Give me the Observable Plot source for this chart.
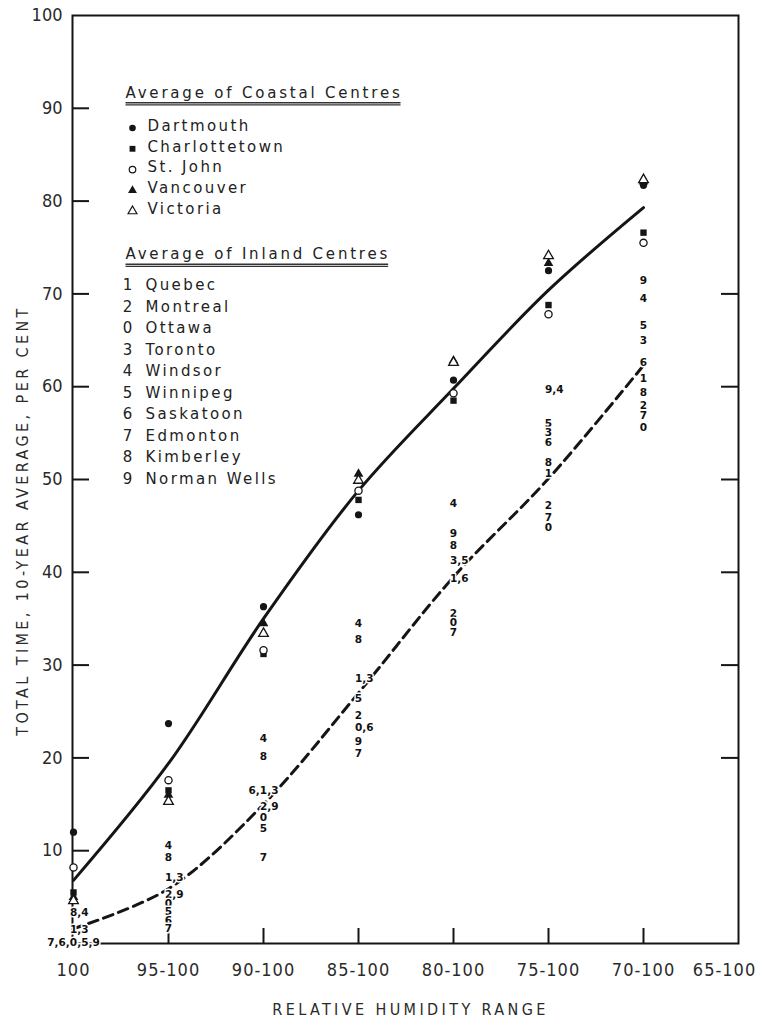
<!DOCTYPE html>
<html><head><meta charset="utf-8">
<script src="https://cdn.jsdelivr.net/npm/d3@7"></script>
<script src="https://cdn.jsdelivr.net/npm/@observablehq/plot@0.6"></script>
<style>
html,body{margin:0;padding:0;background:#fff;}
#chart svg{display:block;}
</style></head><body><div id="chart"></div>
<script>
// ---------- data ----------
const categories = ["100","95-100","90-100","85-100","80-100","75-100","70-100","65-100"];
const yTickValues = [10,20,30,40,50,60,70,80,90];
const yLabelValues = [10,20,30,40,50,60,70,80,90,100];

const coastalAverage = [6.8, 19.4, 35.0, 48.8, 59.8, 70.4, 79.3];
const inlandAverage  = [1.6, 5.9, 15.0, 27.0, 39.5, 50.1, 62.3];

const coastalNames = ["Dartmouth","Charlottetown","St. John","Vancouver","Victoria"];
const dartmouth     = [12.0, 23.7, 36.3, 46.2, 60.7, 72.5, 81.7];
const charlottetown = [5.5, 16.5, 31.2, 47.8, 58.5, 68.8, 76.6];
const stJohn        = [8.2, 17.6, 31.6, 48.8, 59.3, 67.8, 75.5];
const vancouver     = [5.0, 16.0, 34.5, 50.6, 62.8, 73.3, 82.1];
const victoria      = [4.6, 15.3, 33.4, 49.9, 62.6, 74.1, 82.3];

const inlandDigits = ["1","2","0","3","4","5","6","7","8","9"];
const inlandNames = ["Quebec","Montreal","Ottawa","Toronto","Windsor","Winnipeg","Saskatoon","Edmonton","Kimberley","Norman Wells"];

const coastalTitle = "Average of Coastal Centres";
const inlandTitle = "Average of Inland Centres";
const xTitle = "RELATIVE HUMIDITY RANGE";
const yTitle = "TOTAL TIME, 10-YEAR AVERAGE, PER CENT";

// inland centre labels read at each humidity range: [label, value]
const inland100    = [["8,4",3.3],["1,3",1.5],["7,6,0,5,9",0.1]];
const inland95_100 = [["4",10.6],["8",9.2],["1,3",7.1],["2,9",5.3],["0",4.3],["5",3.4],["6",2.5],["7",1.6]];
const inland90_100 = [["4",22.1],["8",20.1],["6,1,3",16.5],["2,9",14.7],["0",13.6],["5",12.4],["7",9.3]];
const inland85_100 = [["4",34.5],["8",32.7],["1,3",28.5],["5",26.4],["2",24.6],["0,6",23.3],["9",21.7],["7",20.5]];
const inland80_100 = [["4",47.4],["9",44.2],["8",42.9],["3,5",41.3],["1,6",39.3],["2",35.6],["0",34.6],["7",33.5]];
const inland75_100 = [["9,4",59.7],["5",56.0],["3",55.1],["6",54.0],["8",51.8],["1",50.6],["2",47.2],["7",45.9],["0",44.8]];
const inland70_100 = [["9",71.4],["4",69.5],["5",66.6],["3",65.0],["6",62.6],["1",60.9],["8",59.4],["2",58.0],["7",56.9],["0",55.6]];
const inlandColumns = [inland100, inland95_100, inland90_100, inland85_100, inland80_100, inland75_100, inland70_100];

// ---------- build tables ----------
const series = arr => arr.map((v, i) => ({x: categories[i], y: v}));
const inlandRows = inlandColumns.flatMap((col, i) => col.map(([label, v]) => ({x: categories[i], y: v, label})));

const W = 759, H = 1021;
const mL = 72, mR = 21, mT = 15, mB = 78;
const plotW = W - mL - mR, plotH = H - mT - mB;

const axisFont = "'DejaVu Sans Condensed', sans-serif";
const legendFont = "'DejaVu Sans', sans-serif";
const ink = "#151515";

const stationStyles = [
  {data: dartmouth, symbol: "circle", fill: ink, stroke: "none"},
  {data: charlottetown, symbol: "square", fill: ink, stroke: "none"},
  {data: stJohn, symbol: "circle", fill: "white", stroke: ink},
  {data: vancouver, symbol: "triangle", fill: ink, stroke: "none"},
  {data: victoria, symbol: "triangle", fill: "white", stroke: ink}
];

const labelStyle = {fontSize: 10.5, fontWeight: "bold", fontFamily: legendFont, fill: "#111", stroke: "white", strokeWidth: 3, paintOrder: "stroke"};

const marks = [
  Plot.frame({stroke: ink, strokeWidth: 2}),
  Plot.tickY(yTickValues, {y: d => d, insetRight: plotW - 17, stroke: ink, strokeWidth: 2}),
  Plot.tickY(yTickValues.slice(1,7), {y: d => d, insetLeft: plotW - 17, stroke: ink, strokeWidth: 2}),
  Plot.tickX(categories.slice(1, 7), {x: d => d, insetTop: plotH - 15, stroke: ink, strokeWidth: 2}),
  Plot.axisY({ticks: yLabelValues, tickSize: 0, tickPadding: 10, label: null, fontSize: 18, fontFamily: axisFont, fill: "#2a2a2a"}),
  Plot.axisX({tickSize: 0, tickPadding: 20, label: null, fontSize: 18, fontFamily: axisFont, fill: "#2a2a2a"}),
  Plot.line(series(coastalAverage), {x: "x", y: "y", curve: "catmull-rom", stroke: ink, strokeWidth: 3}),
  Plot.line(series(inlandAverage), {x: "x", y: "y", curve: "catmull-rom", stroke: ink, strokeWidth: 3, strokeDasharray: "10,6"}),
  Plot.text(inlandRows, {filter: d => d.label.length === 3, x: "x", y: "y", text: "label", textAnchor: "start", dx: -3.5, ...labelStyle}),
  Plot.text(inlandRows, {filter: d => d.label.length !== 3, x: "x", y: "y", text: "label", textAnchor: "middle", ...labelStyle})
];

stationStyles.forEach(s => {
  marks.push(Plot.dot(series(s.data), {x: "x", y: "y", symbol: s.symbol, r: 3.6, fill: s.fill, stroke: s.stroke, strokeWidth: 1.3}));
});

// axis titles
marks.push(Plot.text([xTitle], {frameAnchor: "bottom", dy: 66, dx: 5, text: d => d, textAnchor: "middle", lineAnchor: "middle",
  fontSize: 16, fontFamily: axisFont, fill: "#2a2a2a"}));
marks.push(Plot.text([yTitle], {frameAnchor: "left", dx: -50, dy: 41, rotate: -90, text: d => d, textAnchor: "middle", lineAnchor: "middle",
  fontSize: 16, fontFamily: axisFont, fill: "#2a2a2a"}));

// legend
const legendText = (str, dx, yc, anchor = "start") => Plot.text([str], {frameAnchor: "top-left", dx, dy: yc - mT, text: d => d,
  textAnchor: anchor, lineAnchor: "middle", fontSize: 15, fontFamily: legendFont, fill: "#222"});
marks.push(legendText(coastalTitle, 53, 92.5));
coastalNames.forEach((name, i) => {
  const yc = 125.5 + i * 20.8;
  const s = stationStyles[i];
  marks.push(Plot.dot([name], {frameAnchor: "top-left", dx: 60, dy: yc + 2 - mT, symbol: s.symbol, r: 3.3, fill: s.fill, stroke: s.stroke, strokeWidth: 1.2}));
  marks.push(legendText(name, 75, yc));
});
marks.push(legendText(inlandTitle, 53, 254));
inlandNames.forEach((name, i) => {
  const yc = 285 + i * 21.5;
  marks.push(legendText(inlandDigits[i], 55, yc, "middle"));
  marks.push(legendText(name, 73, yc));
});

const chart = Plot.plot({
  width: W, height: H,
  marginLeft: mL, marginRight: mR, marginTop: mT, marginBottom: mB,
  style: {background: "white", color: ink, fontFamily: legendFont},
  x: {type: "point", domain: categories, padding: 0},
  y: {domain: [0, 100]},
  marks
});
document.getElementById("chart").appendChild(chart);

// styling tweaks (selected by content)
const svg = d3.select(chart);
const byText = set => svg.selectAll("text").filter(function() { return set.has(this.textContent); });
byText(new Set([...coastalNames, ...inlandNames])).style("letter-spacing", "2.4px");
byText(new Set([coastalTitle, inlandTitle])).style("letter-spacing", "2.8px");
byText(new Set([xTitle, yTitle])).style("letter-spacing", "3.4px");
const xTickTexts = svg.selectAll('g[aria-label="x-axis tick label"] text').style("letter-spacing", "1px");
xTickTexts.filter(function() { return this.textContent === categories[categories.length - 1]; }).attr("dx", -14);

// underline legend headers
const svgRect = chart.getBoundingClientRect();
byText(new Set([coastalTitle, inlandTitle])).each(function() {
  const r = this.getBoundingClientRect();
  const x0 = r.left - svgRect.left, x1 = r.right - svgRect.left - 2, yb = r.bottom - svgRect.top;
  svg.append("line").attr("x1", x0).attr("x2", x1).attr("y1", yb + 1).attr("y2", yb + 1)
    .attr("stroke", "#333").attr("stroke-width", 1.6);
  svg.append("line").attr("x1", x0).attr("x2", x1).attr("y1", yb + 3).attr("y2", yb + 3)
    .attr("stroke", "#333").attr("stroke-width", 1.2);
});
</script></body></html>
